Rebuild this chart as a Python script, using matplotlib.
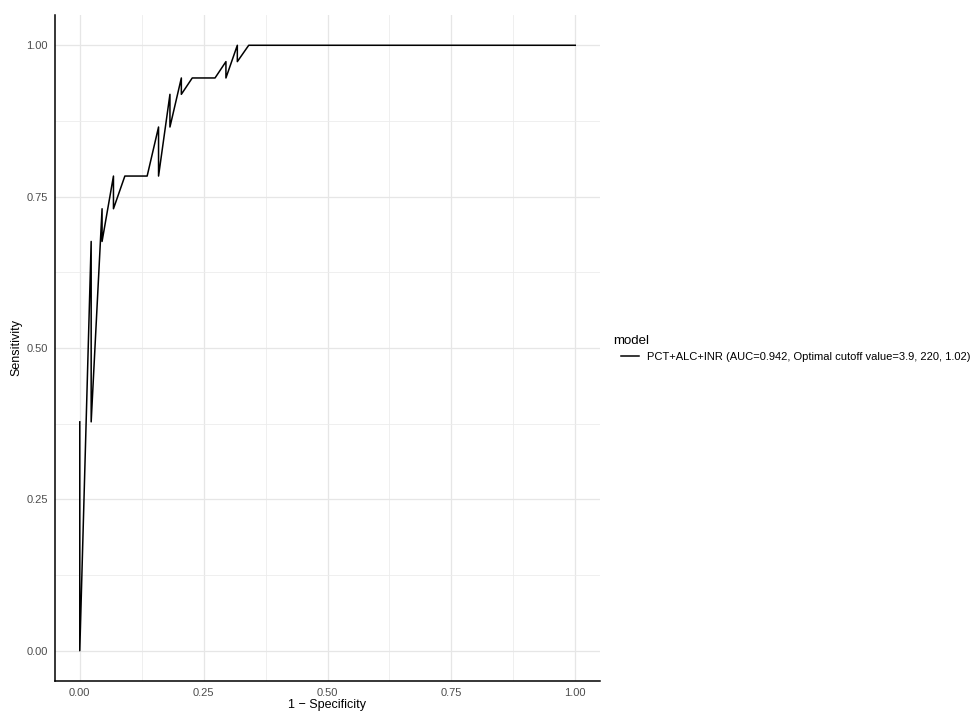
import matplotlib
matplotlib.use("Agg")
import matplotlib.pyplot as plt
from matplotlib.ticker import MultipleLocator

plt.rcParams['font.family'] = ['Liberation Sans', 'DejaVu Sans']

# ROC path points, in drawing order (ties at the same x go high -> low)
fpr = [0.0, 0.0, 0.023, 0.023, 0.045, 0.045, 0.068, 0.068, 0.091, 0.136,
       0.159, 0.159, 0.182, 0.182, 0.205, 0.205, 0.227, 0.273, 0.295, 0.295,
       0.318, 0.318, 0.341, 1.0]
tpr = [0.378, 0.0, 0.676, 0.378, 0.730, 0.676, 0.784, 0.730, 0.784, 0.784,
       0.865, 0.784, 0.919, 0.865, 0.946, 0.919, 0.946, 0.946, 0.973, 0.946,
       1.0, 0.973, 1.0, 1.0]
model_label = "PCT+ALC+INR (AUC=0.942, Optimal cutoff value=3.9, 220, 1.02)"
ticks = [0.0, 0.25, 0.5, 0.75, 1.0]
tick_labels = ["0.00", "0.25", "0.50", "0.75", "1.00"]

fig = plt.figure(figsize=(9.72, 7.13), dpi=100)
ax = fig.add_axes([55 / 972, 1 - 681 / 713, 545 / 972, 666 / 713])

ax.plot(fpr, tpr, color='black', lw=1.1, label=model_label)

ax.set_xlim(-0.05, 1.05)
ax.set_ylim(-0.05, 1.05)
ax.set_xticks(ticks)
ax.set_xticklabels(tick_labels)
ax.set_yticks(ticks)
ax.set_yticklabels(tick_labels)
ax.xaxis.set_minor_locator(MultipleLocator(0.125))
ax.yaxis.set_minor_locator(MultipleLocator(0.125))
ax.tick_params(which='both', length=0)
ax.tick_params(axis='x', pad=5, labelsize=8, labelcolor='#4d4d4d')
ax.tick_params(axis='y', pad=5, labelsize=8, labelcolor='#4d4d4d')

ax.grid(which='major', color='#e6e6e6', lw=0.9)
ax.grid(which='minor', color='#ececec', lw=0.6)
ax.set_axisbelow(True)

for side in ['top', 'right']:
    ax.spines[side].set_visible(False)
for side in ['left', 'bottom']:
    ax.spines[side].set_color('black')
    ax.spines[side].set_linewidth(1.1)

ax.set_xlabel("1 − Specificity", fontsize=9, labelpad=1)
ax.set_ylabel("Sensitivity", fontsize=9, labelpad=3)

# legend: title as plain text, key line + label below it
fig.text(613 / 972, 1 - 341 / 713, "model", fontsize=9.5, ha='left', va='center')
ax.legend(loc='center left', bbox_to_anchor=(621 / 972, 1 - 357 / 713),
          bbox_transform=fig.transFigure, frameon=False,
          fontsize=8, handlelength=1.6, handletextpad=0.75,
          borderpad=0, borderaxespad=0)

fig.savefig("out.png", dpi=100)
